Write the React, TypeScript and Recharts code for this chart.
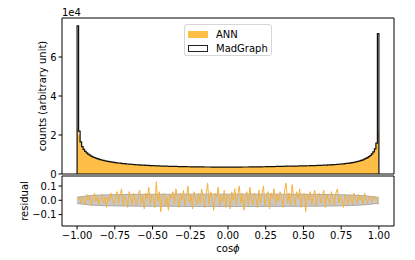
import React from 'react';
import { ComposedChart, Area, Line, XAxis, YAxis, ReferenceArea, Legend } from 'recharts';

// MadGraph histogram, 200 bins over cos(phi) in [-1, 1]
const MADGRAPH = [
  76000, 22000, 16500, 14000, 12600, 11600, 10800, 10200, 9650, 9200,
  8800, 8450, 8150, 7850, 7600, 7380, 7170, 6980, 6800, 6630,
  6480, 6330, 6200, 6070, 5950, 5840, 5730, 5630, 5540, 5450,
  5360, 5280, 5200, 5130, 5060, 4990, 4930, 4870, 4810, 4750,
  4700, 4650, 4600, 4550, 4510, 4460, 4420, 4380, 4340, 4300,
  4270, 4230, 4200, 4170, 4140, 4110, 4080, 4050, 4020, 4000,
  3970, 3950, 3920, 3900, 3880, 3860, 3840, 3820, 3800, 3780,
  3770, 3750, 3740, 3720, 3710, 3690, 3680, 3670, 3660, 3650,
  3640, 3630, 3620, 3610, 3600, 3600, 3590, 3580, 3580, 3570,
  3570, 3560, 3560, 3560, 3550, 3550, 3550, 3550, 3540, 3540,
  3540, 3550, 3540, 3550, 3560, 3550, 3560, 3570, 3570, 3580,
  3580, 3590, 3600, 3600, 3610, 3620, 3630, 3640, 3650, 3660,
  3670, 3680, 3690, 3710, 3720, 3740, 3750, 3770, 3780, 3800,
  3820, 3840, 3860, 3880, 3900, 3920, 3950, 3970, 4000, 4020,
  3980, 4000, 4020, 4040, 4060, 4080, 4100, 4120, 4140, 4160,
  4180, 4200, 4220, 4240, 4260, 4290, 4310, 4340, 4370, 4400,
  4430, 4460, 4490, 4520, 4560, 4600, 4640, 4680, 4720, 4770,
  4820, 4880, 4940, 5000, 5070, 5140, 5220, 5310, 5400, 5500,
  5610, 5730, 5860, 6000, 6160, 6340, 6540, 6760, 7010, 7290,
  7610, 7980, 8400, 8900, 9500, 10300, 11300, 12900, 15800, 72000,
];

// ANN histogram, same binning
const ANN = [
  24000, 20000, 16300, 14100, 12500, 11700, 10700, 10300, 9600, 9250,
  8750, 8500, 8100, 7900, 7550, 7420, 7130, 7010, 6770, 6660,
  6450, 6360, 6170, 6100, 5920, 5870, 5700, 5660, 5510, 5480,
  5330, 5310, 5170, 5160, 5030, 5020, 4900, 4900, 4790, 4780,
  4680, 4670, 4580, 4570, 4490, 4480, 4400, 4400, 4320, 4320,
  4250, 4250, 4180, 4190, 4120, 4130, 4060, 4070, 4000, 4020,
  3950, 3970, 3900, 3920, 3860, 3880, 3820, 3840, 3780, 3800,
  3750, 3770, 3720, 3740, 3690, 3710, 3660, 3690, 3640, 3670,
  3620, 3650, 3600, 3630, 3580, 3620, 3570, 3600, 3560, 3590,
  3550, 3580, 3540, 3580, 3530, 3570, 3530, 3570, 3520, 3560,
  3520, 3570, 3520, 3570, 3540, 3570, 3540, 3590, 3550, 3600,
  3560, 3610, 3580, 3620, 3590, 3640, 3600, 3660, 3630, 3680,
  3650, 3700, 3670, 3730, 3700, 3760, 3730, 3790, 3760, 3820,
  3800, 3860, 3840, 3900, 3880, 3940, 3930, 3990, 3980, 4040,
  3960, 4020, 4000, 4060, 4040, 4100, 4080, 4140, 4120, 4180,
  4160, 4220, 4200, 4260, 4240, 4310, 4290, 4360, 4350, 4420,
  4410, 4480, 4470, 4540, 4540, 4620, 4620, 4700, 4700, 4790,
  4800, 4900, 4920, 5020, 5050, 5160, 5200, 5330, 5380, 5520,
  5590, 5750, 5840, 6020, 6140, 6360, 6520, 6780, 6990, 7310,
  7590, 8000, 8380, 8920, 9480, 10320, 11250, 12950, 15600, 22500,
];

// residual per bin
const RESIDUAL = [
  0.0, 0.02, -0.02, 0.03, 0.01, -0.03, 0.04, 0.0, 0.03, -0.04, 0.02, 0.05, -0.01, 0.03, -0.03, 0.01, 0.04, -0.02, 0.02, -0.05,
  0.03, -0.01, 0.05, 0.0, -0.03, 0.02, 0.06, -0.02, 0.04, 0.08, -0.04, 0.03, 0.01, -0.05, 0.06, 0.02, -0.03, 0.05, 0.0, -0.04,
  0.04, 0.07, -0.02, 0.03, -0.06, 0.05, 0.01, 0.09, -0.03, 0.04, 0.02, -0.05, 0.13, -0.01, 0.06, -0.08, 0.03, 0.05, -0.04, 0.02,
  -0.07, 0.04, 0.01, 0.06, -0.03, 0.08, 0.02, -0.05, 0.05, 0.0, 0.07, -0.04, 0.03, 0.1, -0.02, 0.04, -0.06, 0.06, 0.01, -0.03,
  0.05, -0.02, 0.08, 0.03, -0.05, 0.04, 0.12, -0.03, 0.06, 0.01, -0.07, 0.05, 0.02, 0.09, -0.04, 0.03, -0.01, 0.07, -0.05, 0.04,
  0.02, -0.06, 0.06, 0.0, 0.08, -0.03, 0.04, 0.1, -0.02, 0.05, -0.07, 0.03, 0.06, -0.04, 0.09, 0.01, -0.03, 0.05, 0.02, -0.05,
  0.07, -0.02, 0.04, 0.1, -0.04, 0.03, 0.06, -0.06, 0.05, 0.01, 0.08, -0.03, 0.04, -0.01, 0.06, 0.02, -0.05, 0.07, 0.12, -0.02,
  0.05, -0.04, 0.11, 0.02, -0.03, 0.06, 0.01, 0.08, -0.05, 0.03, 0.05, -0.08, 0.04, 0.0, 0.06, -0.03, 0.02, 0.07, -0.04, 0.03,
  0.05, -0.02, 0.03, 0.07, -0.05, 0.04, 0.01, -0.03, 0.06, 0.02, -0.04, 0.05, 0.08, -0.02, 0.03, 0.0, -0.05, 0.04, 0.02, -0.03,
  0.04, 0.01, -0.03, 0.05, 0.02, -0.02, 0.04, 0.0, 0.03, -0.03, 0.05, 0.01, -0.02, 0.03, 0.02, -0.01, 0.03, 0.01, 0.02, -0.03,
];

// statistical band of the residual
const BAND_X = [-1, -0.9, -0.8, -0.7, -0.6, -0.5, -0.4, -0.3, -0.2, -0.1, 0, 0.1, 0.2, 0.3, 0.4, 0.5, 0.6, 0.7, 0.8, 0.9, 1];
const BAND_HALF = [0.022, 0.034, 0.038, 0.04, 0.041, 0.042, 0.042, 0.043, 0.043, 0.043, 0.043, 0.043, 0.043, 0.043, 0.042, 0.042, 0.041, 0.04, 0.037, 0.032, 0.02];

const X_TICKS = [-1, -0.75, -0.5, -0.25, 0, 0.25, 0.5, 0.75, 1];
const COUNT_TICKS = [0, 20000, 40000, 60000];
const RES_TICKS = [-0.1, 0, 0.1];

const nBins = MADGRAPH.length;
const binEdge = (i: number) => -1 + (2 * i) / nBins;

const histRows = [
  { x: -1, ann: 0, mg: 0 },
  ...MADGRAPH.map((mg, i) => ({ x: binEdge(i), ann: ANN[i], mg })),
  { x: 1, ann: ANN[nBins - 1], mg: MADGRAPH[nBins - 1] },
  { x: 1, ann: 0, mg: 0 },
];
const resRows = RESIDUAL.map((res, i) => ({ x: binEdge(i) + 1 / nBins, res }));
const bandRows = BAND_X.map((x, i) => ({ x, band: [-BAND_HALF[i], BAND_HALF[i]] }));

const FONT = 'DejaVu Sans';
const tickStyle = { fontSize: 10, fill: '#000', fontFamily: FONT };
const minus = (s: string) => s.replace('-', '\u2212');

const LegendBox = ({ payload }: any) => (
  <div
    style={{
      boxSizing: 'border-box',
      width: 88,
      height: 32,
      border: '1px solid #d6d6d6',
      borderRadius: 3,
      background: '#fff',
      fontFamily: FONT,
      fontSize: 10,
      padding: '2px 0 0 3px',
    }}
  >
    {(payload || []).map((p: any) => (
      <div key={p.value} style={{ display: 'flex', alignItems: 'center', height: 14 }}>
        <span
          style={{
            display: 'inline-block',
            boxSizing: 'border-box',
            width: 20,
            height: 7,
            marginRight: 8,
            background: p.dataKey === 'ann' ? '#ffbe45' : '#fff',
            border: p.dataKey === 'ann' ? 'none' : '1px solid #222',
          }}
        />
        <span style={{ color: '#000' }}>{p.value}</span>
      </div>
    ))}
  </div>
);

const App = () => {
  return (
    <div style={{ position: 'absolute', left: 0, top: 0, width: 415, height: 260, background: '#fff' }}>
      <div style={{ position: 'absolute', left: 0, top: 0 }}>
        <ComposedChart width={415} height={186} data={histRows} margin={{ top: 18, right: 21, bottom: 12, left: 32 }}>
          <XAxis type="number" dataKey="x" domain={[-1.1, 1.1]} allowDataOverflow hide />
          <YAxis
            type="number"
            domain={[0, 80000]}
            allowDataOverflow
            ticks={COUNT_TICKS}
            interval={0}
            tickFormatter={(v: number) => String(v / 10000)}
            width={30}
            axisLine={false}
            tickSize={3.5}
            tickLine={{ stroke: '#000' }}
            tick={tickStyle}
          />
          <Area
            type="stepAfter"
            dataKey="ann"
            name="ANN"
            fill="#ffbe45"
            fillOpacity={1}
            stroke="none"
            isAnimationActive={false}
          />
          <Line
            type="stepAfter"
            dataKey="mg"
            name="MadGraph"
            stroke="#111"
            strokeWidth={1.2}
            dot={false}
            isAnimationActive={false}
          />
          <ReferenceArea x1={-1.1} x2={1.1} y1={0} y2={80000} fill="none" stroke="#000" strokeWidth={1} ifOverflow="visible" />
          <Legend
            layout="vertical"
            align="center"
            verticalAlign="middle"
            content={LegendBox}
            wrapperStyle={{ left: 184, top: 24, width: 88, height: 32 }}
          />
        </ComposedChart>
      </div>
      <div style={{ position: 'absolute', left: 0, top: 0 }}>
        <ComposedChart width={415} height={260} margin={{ top: 176, right: 21, bottom: 4, left: 32 }}>
          <XAxis
            type="number"
            dataKey="x"
            domain={[-1.1, 1.1]}
            allowDataOverflow
            ticks={X_TICKS}
            interval={0}
            tickFormatter={(v: number) => minus(v.toFixed(2))}
            height={30}
            axisLine={false}
            tickSize={3.5}
            tickLine={{ stroke: '#000' }}
            tick={tickStyle}
          />
          <YAxis
            type="number"
            domain={[-0.18, 0.17]}
            allowDataOverflow
            ticks={RES_TICKS}
            interval={0}
            tickFormatter={(v: number) => minus(v.toFixed(1))}
            width={30}
            axisLine={false}
            tickSize={3.5}
            tickLine={{ stroke: '#000' }}
            tick={tickStyle}
          />
          <Area
            data={bandRows}
            type="monotone"
            dataKey="band"
            fill="#c8c8c8"
            fillOpacity={1}
            stroke="#a9a9a9"
            strokeWidth={1}
            isAnimationActive={false}
          />
          <Line
            data={resRows}
            type="linear"
            dataKey="res"
            stroke="#f5b13d"
            strokeWidth={1}
            dot={false}
            isAnimationActive={false}
          />
          <ReferenceArea x1={-1.1} x2={1.1} y1={-0.18} y2={0.17} fill="none" stroke="#000" strokeWidth={1} ifOverflow="visible" />
        </ComposedChart>
      </div>
      <svg width={415} height={260} style={{ position: 'absolute', left: 0, top: 0, pointerEvents: 'none' }}>
        <g fontFamily={FONT} fontSize={10} fill="#000">
          <text x={62} y={15.5}>1e4</text>
          <text x={42} y={96} transform="rotate(-90 42 96)" textAnchor="middle" dominantBaseline="central">
            counts (arbitrary unit)
          </text>
          <text x={24} y={201} transform="rotate(-90 24 201)" textAnchor="middle" dominantBaseline="central">
            residual
          </text>
          <text x={228} y={252} textAnchor="middle">
            cos<tspan fontStyle="italic">ϕ</tspan>
          </text>
        </g>
      </svg>
    </div>
  );
};

export default App;
